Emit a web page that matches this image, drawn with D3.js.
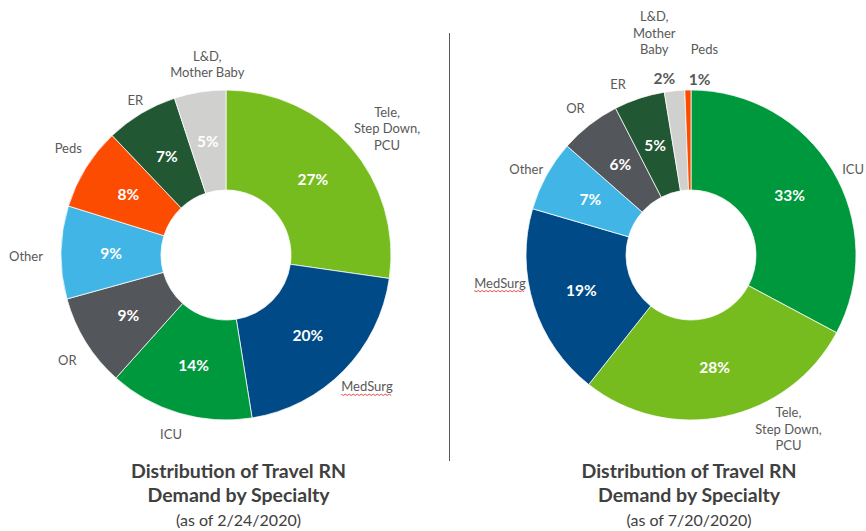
<!DOCTYPE html>
<html>
<head>
<meta charset="utf-8">
<script src="https://cdn.jsdelivr.net/npm/d3@7"></script>
<style>
  body { margin: 0; background: #fff; }
  svg { display: block; font-family: Lato, "Open Sans", sans-serif; }
</style>
</head>
<body>
<svg id="chart" width="866" height="531"></svg>
<script>
// categories and values, clockwise from 12 o'clock
var febNames = ["Tele,\nStep Down,\nPCU", "MedSurg", "ICU", "OR", "Other", "Peds", "ER", "L&D,\nMother Baby"];
var febValues = [27, 20, 14, 9, 9, 8, 7, 5];

var julNames = ["ICU", "Tele,\nStep Down,\nPCU", "MedSurg", "Other", "OR", "ER", "L&D,\nMother\nBaby", "Peds"];
var julValues = [33, 28, 19, 7, 6, 5, 2, 0.6];

var titleLines = ["Distribution of Travel RN", "Demand by Specialty"];
var febDate = "(as of 2/24/2020)";
var julDate = "(as of 7/20/2020)";

var colorOf = {
  "ICU": "#00983d",
  "Tele": "#77bc1f",
  "MedSurg": "#004b87",
  "OR": "#53565a",
  "Other": "#41b6e6",
  "Peds": "#fc4c02",
  "ER": "#215732",
  "L&D": "#d0d0ce"
};

var svg = d3.select("#chart");
var outerR = 165,
  innerR = 65;

function key(name) {
  return name.split(/[,\n]/)[0];
}

function drawDonut(cx, cy, titleX, names, values, subtitle, nudge, outsidePct) {
  var g = svg.append("g").attr("transform", "translate(" + cx + "," + cy + ")");
  var data = names.map(function (n, i) {
    return { name: n, value: values[i] };
  });
  var pie = d3.pie().sort(null).value(function (d) { return d.value; });
  var arc = d3.arc().innerRadius(innerR).outerRadius(outerR);
  var midArc = d3.arc().innerRadius(115).outerRadius(115);
  var labArc = d3.arc().innerRadius(188).outerRadius(188);
  var outArc = d3.arc().innerRadius(178).outerRadius(178);
  var arcs = pie(data);

  g.selectAll("path.slice")
    .data(arcs)
    .enter()
    .append("path")
    .attr("class", "slice")
    .attr("d", arc)
    .attr("fill", function (d) { return colorOf[key(d.data.name)]; })
    .attr("stroke", "#fff")
    .attr("stroke-width", 0.75);

  // percentage labels
  g.selectAll("text.pct")
    .data(arcs)
    .enter()
    .append("text")
    .attr("class", "pct")
    .attr("transform", function (d) {
      var k = key(d.data.name);
      var p;
      if (outsidePct[k]) {
        p = outArc.centroid(d);
        p[0] += outsidePct[k][0];
        p[1] += outsidePct[k][1];
      } else {
        p = midArc.centroid(d);
      }
      return "translate(" + p[0] + "," + p[1] + ")";
    })
    .attr("text-anchor", "middle")
    .attr("dy", "0.36em")
    .style("font-size", "15.5px")
    .style("font-weight", "bold")
    .style("fill", function (d) {
      return outsidePct[key(d.data.name)] ? "#595959" : "#fff";
    })
    .text(function (d) { return Math.round(d.data.value) + "%"; });

  // category labels
  var lab = g.selectAll("text.cat")
    .data(arcs)
    .enter()
    .append("text")
    .attr("class", "cat")
    .attr("transform", function (d) {
      var p = labArc.centroid(d);
      var n = nudge[key(d.data.name)] || [0, 0];
      return "translate(" + (p[0] + n[0]) + "," + (p[1] + n[1]) + ")";
    })
    .attr("text-anchor", function (d) {
      return key(d.data.name) === "ICU" && nudge.ICUstart ? "start" : "middle";
    })
    .style("font-size", "13px")
    .style("fill", "#595959");

  lab.each(function (d) {
    var lines = d.data.name.split("\n");
    var t = d3.select(this);
    lines.forEach(function (line, i) {
      t.append("tspan")
        .attr("x", 0)
        .attr("y", (i - (lines.length - 1) / 2) * 16.5)
        .attr("dy", "0.35em")
        .text(line);
    });
  });

  // spell-check squiggle under MedSurg, as in the source slide
  lab.filter(function (d) { return d.data.name === "MedSurg"; }).each(function () {
    var b = this.getBBox();
    var tr = this.getAttribute("transform");
    var pts = [];
    for (var x = b.x; x <= b.x + b.width; x += 2) {
      pts.push([x, b.y + b.height + (pts.length % 2 ? 1 : -0.2)]);
    }
    g.append("path")
      .attr("transform", tr)
      .attr("d", d3.line()(pts))
      .attr("fill", "none")
      .attr("stroke", "#e02020")
      .attr("stroke-width", 0.8);
  });

  // title
  var title = svg.append("g").attr("transform", "translate(" + titleX + ",0)");
  titleLines.forEach(function (line, i) {
    title.append("text")
      .attr("y", 478 + i * 23.5)
      .attr("text-anchor", "middle")
      .style("font-size", "19.5px")
      .style("font-weight", "bold")
      .style("fill", "#404040")
      .text(line);
  });
  title.append("text")
    .attr("y", 526)
    .attr("text-anchor", "middle")
    .style("font-size", "16px")
    .style("fill", "#404040")
    .text(subtitle);
}

drawDonut(226, 255, 238.5, febNames, febValues, febDate,
  { "Tele": [19, -3], "MedSurg": [7, 0], "ICU": [-2, -1], "OR": [1, 6], "Other": [-12, 4], "Peds": [2, -7], "ER": [6, 7], "L&D": [11, -5] },
  {});

drawDonut(691, 255, 689, julNames, julValues, julDate,
  { "ICU": [-10, 11], ICUstart: true, "Tele": [59, -10], "MedSurg": [-12, -29], "Other": [0, 5], "OR": [0, 2], "ER": [-14, 8], "L&D": [-18, -35], "Peds": [17, -18] },
  { "L&D": [-9, 1], "Peds": [12, 2] });

// divider between the two charts
svg.append("line")
  .attr("x1", 449.5).attr("x2", 449.5)
  .attr("y1", 33).attr("y2", 461)
  .attr("stroke", "#595959")
  .attr("stroke-width", 1);
</script>
</body>
</html>
